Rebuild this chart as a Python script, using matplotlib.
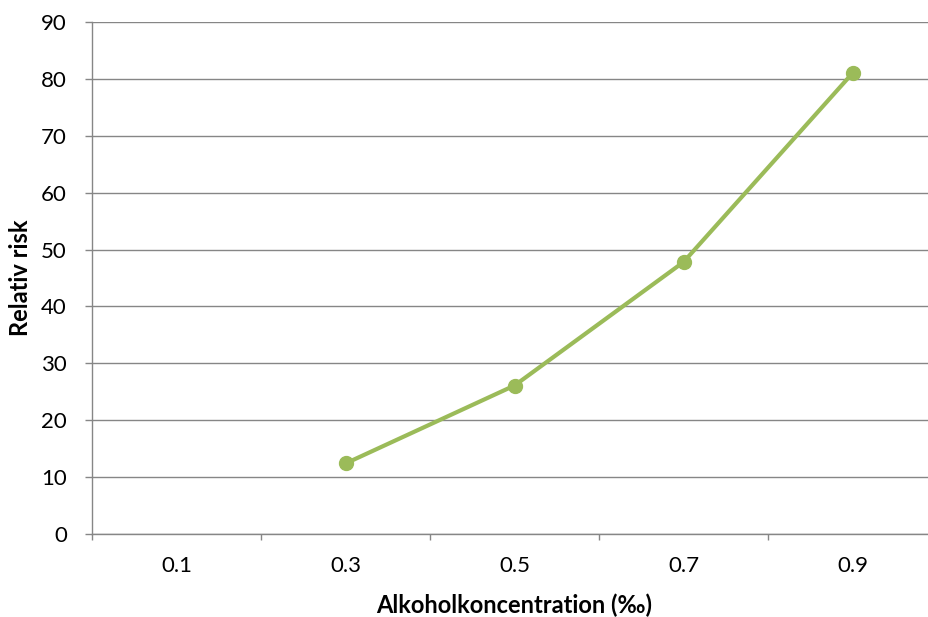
import numpy as np
import matplotlib
matplotlib.use("Agg")
from matplotlib import pyplot as plt

# data
kategorier = ["0.1", "0.3", "0.5", "0.7", "0.9"]
relativ_risk = [np.nan, 12.4, 26.1, 47.8, 81.0]

plt.rcParams['font.family'] = ['Lato', 'DejaVu Sans']

fig = plt.figure(figsize=(9.29, 6.17), dpi=100)
ax = fig.add_axes([92/929, 83/617, 845/929, 512/617])

gra = '#868686'
gron = '#9BBB59'

x = np.arange(len(kategorier))
ax.plot(x, relativ_risk, color=gron, lw=3, marker='o', ms=10, zorder=3,
        solid_capstyle='round')

ax.set_xlim(-0.5, len(kategorier) - 0.5)
ax.set_ylim(0, 90)
ax.set_yticks(np.arange(0, 91, 10))
ax.yaxis.grid(True, color=gra, lw=1)
ax.set_axisbelow(True)

# tickmarks between the categories, labels in the middle
ax.set_xticks(np.arange(-0.5, len(kategorier)), labels=[])
ax.set_xticks(x, labels=kategorier, minor=True)
ax.tick_params(axis='x', which='major', length=4.5, width=1, color=gra, direction='out')
ax.tick_params(axis='x', which='minor', length=0, pad=16, labelsize=16)
ax.tick_params(axis='y', length=5, width=1, color=gra, labelsize=16, pad=13)

for s in ['top', 'right']:
    ax.spines[s].set_visible(False)
for s in ['left', 'bottom']:
    ax.spines[s].set_color(gra)
    ax.spines[s].set_linewidth(1)

ax.set_xlabel("Alkoholkoncentration (‰)", fontsize=17, fontweight='bold')
ax.set_ylabel("Relativ risk", fontsize=17, fontweight='bold')
ax.xaxis.set_label_coords(0.5, -0.117)
ax.yaxis.set_label_coords(-0.071, 0.5)

fig.savefig("out.png", dpi=100)
